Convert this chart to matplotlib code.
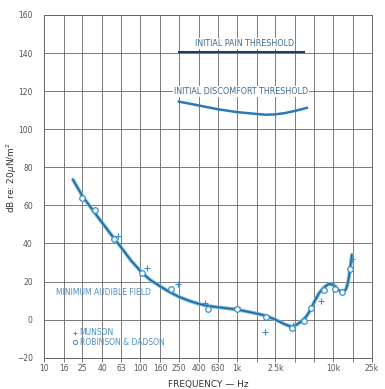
import numpy as np
import matplotlib
matplotlib.use("Agg")
import matplotlib.pyplot as plt

plt.rcParams['font.family'] = ['DejaVu Sans']

# minimum audible field curve (Hz, dB)
maf_f = [20, 25, 31.5, 40, 50, 63, 80, 100, 125, 160, 200, 250, 315, 400, 500,
         630, 800, 1000, 1250, 1600, 2000, 2500, 3150, 3700, 4200, 4700, 5200,
         5600, 6000, 6500, 7100, 8000, 9000, 10000, 11200, 12500, 13500, 14200,
         14800, 15500]
maf_db = [73.5, 65, 58, 51, 44.5, 38, 31, 25.5, 21, 17.5, 14.5, 12, 10, 8.3, 7.2,
          6.5, 5.9, 5.3, 4.3, 3.2, 2, 0, -2.5, -3.8, -2.5, -0.8, 1.5,
          4, 7, 10.5, 14, 17, 18.8, 18.3, 15.5, 14.5, 16, 20,
          26, 34]

# Munson (+)
mun_f = [58, 117, 247, 466, 990, 1950, 3800, 7400, 10000, 15500]
mun_db = [44, 27, 18.6, 8.5, 6.4, -6.5, -3, 9.9, 18, 32]

# Robinson & Dadson (o)
rd_f = [25, 34, 53, 105, 207, 500, 1000, 2000, 3700, 4900, 5900, 8000, 10400, 12300, 14800]
rd_db = [64, 57.5, 42.3, 24.6, 15.9, 5.4, 5.4, 1.5, -4.5, -0.5, 6, 15.5, 16, 14.6, 26.5]

# initial discomfort threshold
disc_f = [250, 400, 630, 1000, 1600, 2000, 2500, 3150, 4000, 5300]
disc_db = [114.5, 112.5, 110.5, 109, 108, 107.6, 107.8, 108.5, 109.6, 111.2]

# initial pain threshold
pain_f = [250, 5000]
pain_db = [140.5, 140.5]

grid_f = [10, 16, 25, 40, 63, 100, 160, 250, 400, 630, 1000, 1600, 2500, 4000,
          6300, 10000, 16000, 25000]
tick_lbl = ['10', '16', '25', '40', '63', '100', '160', '250', '400', '630', '1k',
            '', '2.5k', '', '', '10k', '', '25k']
y_ticks = [-20, 0, 20, 40, 60, 80, 100, 120, 140, 160]

fig = plt.figure(figsize=(3.85, 3.89), dpi=100)
ax = fig.add_axes([0.114, 0.0805, 0.852, 0.881])

ax.set_xscale('log')
ax.set_xlim(10, 25000)
ax.set_ylim(-20, 160)
ax.minorticks_off()
ax.set_xticks(grid_f)
ax.set_xticklabels(tick_lbl)
ax.set_yticks(y_ticks)
ax.grid(True, color='#666666', lw=0.6)
for s in ax.spines.values():
    s.set_color('#666666')
    s.set_linewidth(0.7)
ax.tick_params(axis='x', length=3, width=0.6, color='#666666', labelsize=5.5,
               labelcolor='#555555', pad=1.5)
ax.tick_params(axis='y', length=0, labelsize=5.5, labelcolor='#555555', pad=8)

halo = '#5fb4e6'
dark = '#2a5f82'
mk = '#3a8fc8'

# MAF curve
ax.plot(maf_f, maf_db, color=halo, lw=2.6, solid_capstyle='round', zorder=3)
ax.plot(maf_f, maf_db, color=dark, lw=1.0, zorder=4)
ax.plot(mun_f, mun_db, '+', color=mk, ms=4, mew=0.8, zorder=5)
ax.plot(rd_f, rd_db, 'o', mfc='white', mec=mk, ms=4, mew=0.9, zorder=5)

# thresholds
ax.plot(pain_f, pain_db, color='#1f3f5e', lw=1.5, zorder=3)
ax.plot(disc_f, disc_db, color='#2b7ab8', lw=1.8, zorder=3)

box = dict(facecolor='white', edgecolor='none', pad=0.6)
txt = dict(fontsize=5.8, color='#3f6b8e', zorder=6, bbox=box)
ax.text(1200, 145, 'INITIAL PAIN THRESHOLD', ha='center', va='center', **txt)
ax.text(1100, 119.8, 'INITIAL DISCOMFORT THRESHOLD', ha='center', va='center', **txt)
ax.text(13.5, 14, 'MINIMUM AUDIBLE FIELD', ha='left', va='center', color='#4a8fc0',
        fontsize=5.5, zorder=6)

# legend
ax.plot([21], [-7], '+', color=mk, ms=3, mew=0.7)
ax.text(23.5, -7, 'MUNSON', ha='left', va='center', color='#4a8fc0', fontsize=5.5)
ax.plot([21], [-12], 'o', mfc='white', mec=mk, ms=3, mew=0.7)
ax.text(23.5, -12, 'ROBINSON & DADSON', ha='left', va='center', color='#4a8fc0',
        fontsize=5.5)

ax.set_xlabel('FREQUENCY — Hz', fontsize=6.5, color='#333333', labelpad=5)
fig.text(0.031, 0.545, r'dB re: 20$\mu$N/m$^2$', rotation=90, ha='center',
         va='center', fontsize=6.5, color='#333333')

fig.savefig('out.png', dpi=100)
